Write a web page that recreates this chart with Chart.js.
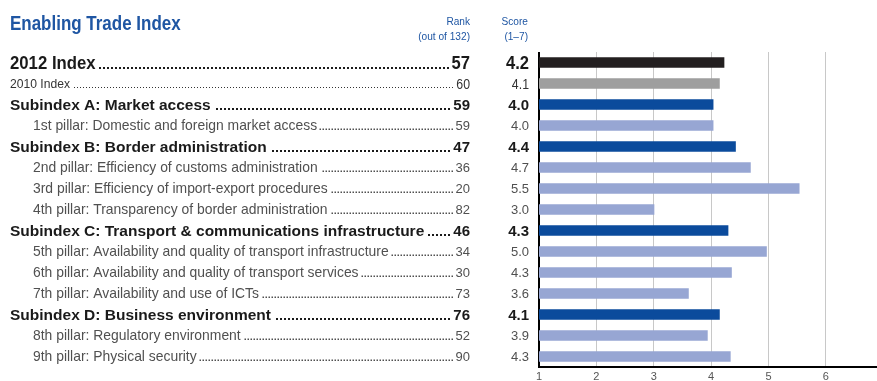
<!DOCTYPE html>
<html>
<head>
<meta charset="utf-8">
<script src="https://cdn.jsdelivr.net/npm/chart.js@4/dist/chart.umd.min.js"></script>
<style>
  html, body { margin: 0; padding: 0; background: #fff; }
  #chart { display: block; }
</style>
</head>
<body>
<canvas id="chart" width="877" height="381"></canvas>
<script>
const labels = [
  '2012 Index',
  '2010 Index',
  'Subindex A: Market access',
  '1st pillar: Domestic and foreign market access',
  'Subindex B: Border administration',
  '2nd pillar: Efficiency of customs administration',
  '3rd pillar: Efficiency of import-export procedures',
  '4th pillar: Transparency of border administration',
  'Subindex C: Transport & communications infrastructure',
  '5th pillar: Availability and quality of transport infrastructure',
  '6th pillar: Availability and quality of transport services',
  '7th pillar: Availability and use of ICTs',
  'Subindex D: Business environment',
  '8th pillar: Regulatory environment',
  '9th pillar: Physical security'
];
const rowTypes = ['total', 'prev', 'sub', 'pillar', 'sub', 'pillar', 'pillar', 'pillar',
  'sub', 'pillar', 'pillar', 'pillar', 'sub', 'pillar', 'pillar'];
const ranks = [57, 60, 59, 59, 47, 36, 20, 82, 46, 34, 30, 73, 76, 52, 90];
const scoreText = ['4.2', '4.1', '4.0', '4.0', '4.4', '4.7', '5.5', '3.0', '4.3', '5.0', '4.3', '3.6', '4.1', '3.9', '4.3'];
const scores = [4.23, 4.15, 4.04, 4.04, 4.43, 4.69, 5.54, 3.01, 4.30, 4.97, 4.36, 3.61, 4.15, 3.94, 4.34];
const xTicks = [1, 2, 3, 4, 5, 6];

const barColors = {
  total: '#231f20',
  prev: '#9e9e9e',
  sub: '#0b4b9c',
  pillar: '#97a6d3'
};

// text styles per row type: label font, rank/score font, horizontal squeeze, leader dots
const FAM = '"Liberation Sans", Arial, sans-serif';
const rowStyles = {
  total: { font: 'bold 18px ' + FAM, numFont: 'bold 18px ' + FAM, sx: 0.93, numSx: 0.92, color: '#1a1a1a', indent: 10, dot: 2, gap: 4 },
  prev: { font: '12.5px ' + FAM, numFont: '14px ' + FAM, sx: 0.97, numSx: 0.88, color: '#333', indent: 10, dot: 1, gap: 3 },
  sub: { font: 'bold 15.5px ' + FAM, numFont: 'bold 15px ' + FAM, sx: 1, numSx: 1, color: '#1a1a1a', indent: 10, dot: 2, gap: 4 },
  pillar: { font: '13.9px ' + FAM, numFont: '13px ' + FAM, sx: 1, numSx: 1, color: '#505050', indent: 33, dot: 1.5, gap: 3 }
};

const RANK_RIGHT = 470;
const SCORE_RIGHT = 529;
const BLUE_TEXT = '#1f56a3';

function capOf(font) {
  const m = font.match(/([\d.]+)px/);
  return m ? parseFloat(m[1]) * 0.716 : 8;
}

function drawText(ctx, text, x, y, font, color, align, sx) {
  ctx.save();
  ctx.font = font;
  ctx.fillStyle = color;
  ctx.textAlign = align;
  ctx.textBaseline = 'alphabetic';
  ctx.translate(x, y);
  ctx.scale(sx, 1);
  ctx.fillText(text, 0, 0);
  const w = ctx.measureText(text).width * sx;
  ctx.restore();
  return w;
}

const tablePlugin = {
  id: 'tableText',
  afterDraw(chart) {
    const ctx = chart.ctx;
    const yScale = chart.scales.y;

    // title and column headers
    drawText(ctx, 'Enabling Trade Index', 10, 30, 'bold 19.5px ' + FAM, BLUE_TEXT, 'left', 0.87);
    drawText(ctx, 'Rank', RANK_RIGHT, 25, '11.5px ' + FAM, BLUE_TEXT, 'right', 0.88);
    drawText(ctx, '(out of 132)', RANK_RIGHT, 40, '11.5px ' + FAM, BLUE_TEXT, 'right', 0.88);
    drawText(ctx, 'Score', SCORE_RIGHT - 1, 25, '11.5px ' + FAM, BLUE_TEXT, 'right', 0.88);
    drawText(ctx, '(1\u20137)', SCORE_RIGHT - 1, 40, '11.5px ' + FAM, BLUE_TEXT, 'right', 0.88);

    labels.forEach((label, i) => {
      const st = rowStyles[rowTypes[i]];
      const yc = yScale.getPixelForValue(i);
      const base = yc + capOf(st.font) / 2;
      const numBase = yc + capOf(st.numFont) / 2;

      const lw = drawText(ctx, label, st.indent, base, st.font, st.color, 'left', st.sx);

      ctx.save();
      ctx.font = st.numFont;
      const rankW = ctx.measureText(String(ranks[i])).width * st.numSx;
      ctx.restore();
      drawText(ctx, String(ranks[i]), RANK_RIGHT, numBase, st.numFont, st.color, 'right', st.numSx);

      // dotted leader between label and rank
      const start = st.indent + lw + 2;
      const end = Math.round(RANK_RIGHT - rankW - 3);
      const dy = Math.round(base) - st.dot;
      ctx.save();
      ctx.fillStyle = st.color;
      for (let x = end - st.dot; x >= start; x -= st.gap) {
        ctx.fillRect(x, dy, st.dot, st.dot);
      }
      ctx.restore();

      drawText(ctx, scoreText[i], SCORE_RIGHT, numBase, st.numFont, st.color, 'right', st.numSx);
    });
  }
};

new Chart(document.getElementById('chart'), {
  type: 'bar',
  data: {
    labels: labels,
    datasets: [{
      data: scores,
      backgroundColor: rowTypes.map((t) => barColors[t]),
      barPercentage: 0.5,
      categoryPercentage: 1
    }]
  },
  options: {
    indexAxis: 'y',
    responsive: false,
    animation: false,
    layout: { padding: { left: 539, top: 52, right: 0, bottom: 0 } },
    plugins: {
      legend: { display: false },
      tooltip: { enabled: false }
    },
    scales: {
      y: { display: false },
      x: {
        min: 1,
        max: 6.89,
        afterBuildTicks: (axis) => {
          axis.ticks = xTicks.map((v) => ({ value: v }));
        },
        afterFit: (axis) => {
          axis.height = 14;
        },
        grid: {
          drawTicks: false,
          color: (c) => (c.tick && c.tick.value === 1 ? '#000' : '#c8c8c8'),
          lineWidth: (c) => (c.tick && c.tick.value === 1 ? 2 : 1)
        },
        border: { color: '#000', width: 2 },
        ticks: {
          padding: 3,
          color: '#555',
          font: { family: FAM, size: 11 }
        }
      }
    }
  },
  plugins: [tablePlugin]
});
</script>
</body>
</html>
